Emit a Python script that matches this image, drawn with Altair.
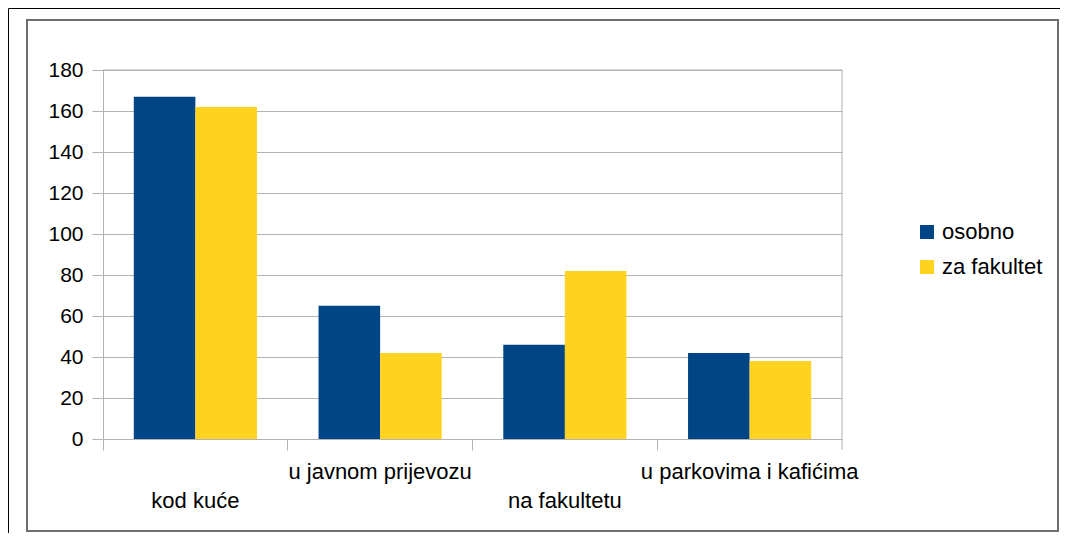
import altair as alt
import pandas as pd

categories = ["kod kuće", "u javnom prijevozu", "na fakultetu", "u parkovima i kafićima"]
series = ["osobno", "za fakultet"]
osobno = [167, 65, 46, 42]
za_fakultet = [162, 42, 82, 38]
colors = ["#004586", "#ffd320"]
y_ticks = [0, 20, 40, 60, 80, 100, 120, 140, 160, 180]

rows = []
for c, a, b in zip(categories, osobno, za_fakultet):
    rows.append({"kategorija": c, "serija": series[0], "vrijednost": a})
    rows.append({"kategorija": c, "serija": series[1], "vrijednost": b})
df = pd.DataFrame(rows)

W, H = 739, 369
FONT = "Liberation Sans"

lower = [categories[0], categories[2]]
label_expr = "indexof(%s, datum.label) >= 0 ? ['', datum.label] : datum.label" % (
    "[" + ",".join("'%s'" % s for s in lower) + "]"
)

bars = alt.Chart(df).mark_bar(stroke=None).encode(
    x=alt.X(
        "kategorija:N",
        sort=categories,
        scale=alt.Scale(paddingInner=0, paddingOuter=0),
        axis=alt.Axis(
            title=None,
            labelAngle=0,
            domain=False,
            grid=False,
            ticks=True,
            tickSize=11,
            tickColor="#b3b3b3",
            tickWidth=1,
            bandPosition=0,
            labelFont=FONT,
            labelFontSize=22,
            labelColor="#000000",
            labelPadding=11,
            labelBaseline="top",
            labelLineHeight=29,
            labelLimit=0,
            labelOverlap=False,
            labelExpr=label_expr,
        ),
    ),
    xOffset=alt.XOffset(
        "serija:N", sort=series,
        scale=alt.Scale(paddingOuter=0.5, paddingInner=0),
    ),
    y=alt.Y(
        "vrijednost:Q",
        scale=alt.Scale(domain=[0, 180], nice=False),
        axis=alt.Axis(
            title=None,
            values=y_ticks,
            grid=True,
            gridColor="#b3b3b3",
            gridWidth=1,
            domain=True,
            domainColor="#b3b3b3",
            domainWidth=1,
            tickSize=11,
            tickColor="#b3b3b3",
            labelFont=FONT,
            labelFontSize=21,
            labelColor="#000000",
            labelPadding=9,
        ),
    ),
    color=alt.Color(
        "serija:N",
        sort=series,
        scale=alt.Scale(domain=series, range=colors),
        legend=alt.Legend(
            title=None,
            orient="none",
            legendX=813,
            legendY=151,
            symbolType="square",
            symbolSize=196,
            symbolStrokeWidth=0,
            labelFont=FONT,
            labelFontSize=22,
            labelColor="#000000",
            labelOffset=4,
            rowPadding=13,
            padding=0,
        ),
    ),
)

deco = pd.DataFrame({"d": [0]})
right_edge = alt.Chart(deco).mark_rule(color="#b3b3b3", strokeWidth=1).encode(
    x=alt.value(W), y=alt.value(0), y2=alt.value(H + 11)
)
top_edge = alt.Chart(deco).mark_rule(color="#b3b3b3", strokeWidth=1).encode(
    x=alt.value(0), x2=alt.value(W), y=alt.value(0)
)
inner_box = alt.Chart(deco).mark_rect(fill=None, stroke="#6e6e6e", strokeWidth=2).encode(
    x=alt.value(-76), x2=alt.value(955), y=alt.value(-50), y2=alt.value(461)
)
outer_box = alt.Chart(deco).mark_rect(fill=None, stroke="#000000", strokeWidth=1).encode(
    x=alt.value(-94.5), x2=alt.value(1100), y=alt.value(-61.5), y2=alt.value(600)
)

chart = alt.layer(outer_box, inner_box, top_edge, right_edge, bars).properties(
    width=W,
    height=H,
    padding={"left": 95, "top": 62, "right": 218, "bottom": 94},
    autosize=alt.AutoSizeParams(type="none"),
    background="#ffffff",
).configure_view(stroke=None)

chart.save("out.html", embed_options={"renderer": "svg", "actions": False})
